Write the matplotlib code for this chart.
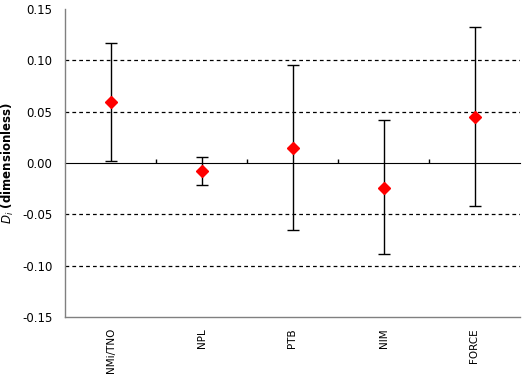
import matplotlib
matplotlib.use("Agg")
import matplotlib.pyplot as plt
import numpy as np

labs = ["NMi/TNO", "NPL", "PTB", "NIM", "FORCE"]
di = [0.059, -0.008, 0.015, -0.024, 0.045]
upper = [0.117, 0.0055, 0.095, 0.0415, 0.132]
lower = [0.0015, -0.0215, -0.0655, -0.089, -0.042]
yticks = [-0.15, -0.10, -0.05, 0.00, 0.05, 0.10, 0.15]
grid_vals = [-0.10, -0.05, 0.05, 0.10]

fig = plt.figure(figsize=(5.23, 3.81), dpi=100)
ax = fig.add_axes([65/523, 1-317/381, 455/523, 308/381])

x = np.arange(len(labs))
di_a = np.array(di)
yerr = np.vstack([di_a - np.array(lower), np.array(upper) - di_a])

for g in grid_vals:
    ax.axhline(g, color="black", lw=0.9, ls=(0, (3, 2.5)), zorder=1)

ax.errorbar(x, di, yerr=yerr, fmt="none", ecolor="black", elinewidth=1.0,
            capsize=4, capthick=1.0, zorder=3)
ax.plot(x, di, ls="none", marker="D", ms=6.5, color="red", mec="red", zorder=4)

ax.set_xlim(-0.5, len(labs) - 0.5)
ax.set_ylim(-0.15, 0.15)
ax.set_yticks(yticks)
ax.set_yticklabels([f"{v:.2f}" for v in yticks], fontsize=8.5)
ax.tick_params(axis="y", length=0, pad=9)
ax.set_xticks(x)
ax.set_xticklabels(labs, rotation=90, fontsize=7.5)
ax.tick_params(axis="x", length=0, pad=8)

for s in ["top", "right"]:
    ax.spines[s].set_visible(False)
for s in ["left", "bottom"]:
    ax.spines[s].set_color("#808080")
    ax.spines[s].set_linewidth(1.0)

sec = ax.secondary_xaxis(0.5)
sec.set_xticks(np.arange(len(labs) - 1) + 0.5)
sec.set_xticklabels([])
sec.tick_params(axis="x", direction="out", length=3, width=1, color="black")
sec.spines["bottom"].set_color("black")
sec.spines["bottom"].set_linewidth(1.0)

ax.set_ylabel("$\\mathbf{\\mathit{D}}_{\\mathbf{\\mathit{i}}}$ (dimensionless)",
              fontsize=8.5, fontweight="bold")
ax.yaxis.set_label_coords(-49/455, 0.5)

fig.savefig("out.png", dpi=100)
